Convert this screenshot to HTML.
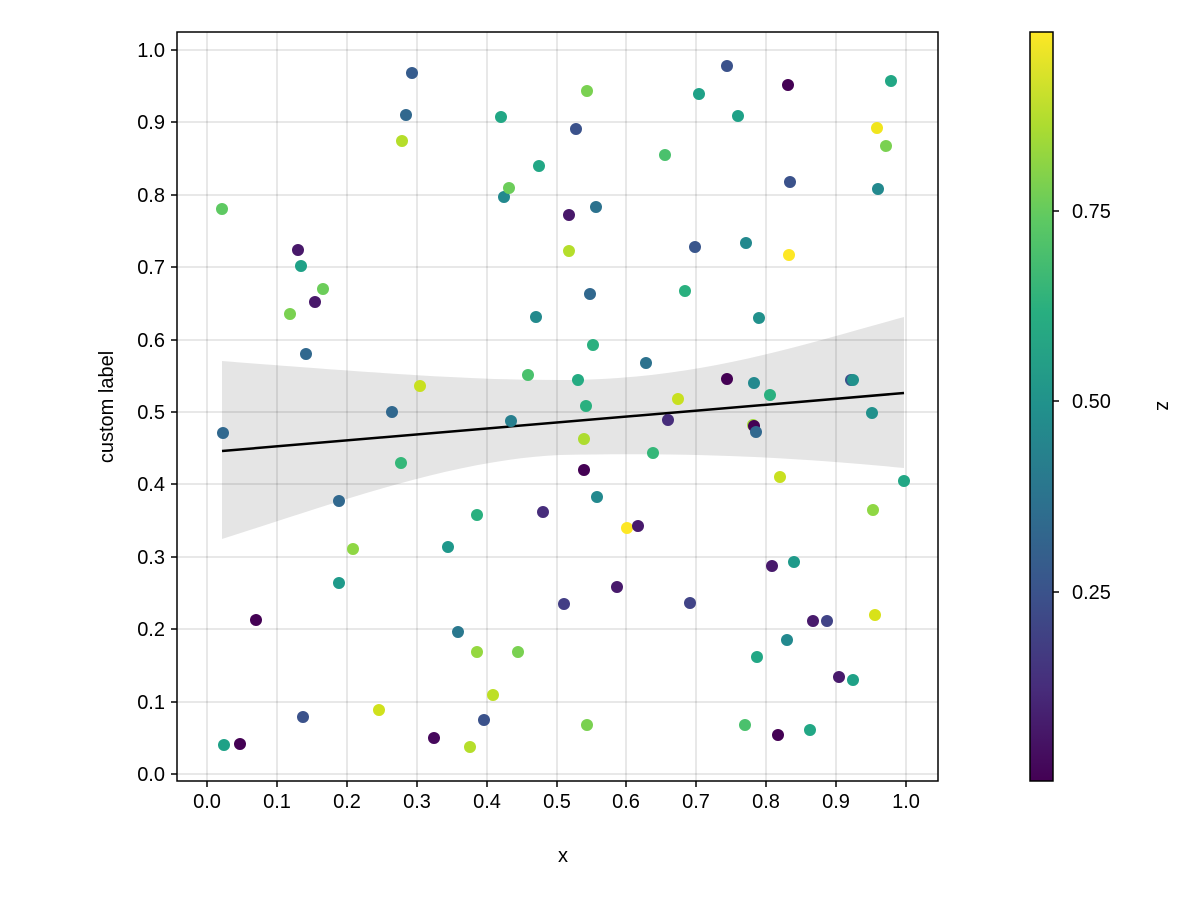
<!DOCTYPE html>
<html><head><meta charset="utf-8"><style>body{margin:0;background:#fff}svg{display:block}text{font-family:"Liberation Sans",sans-serif;fill:#000}</style></head><body>
<svg width="1200" height="900" xmlns="http://www.w3.org/2000/svg">
<defs><linearGradient id="vir" x1="0" y1="1" x2="0" y2="0">
<stop offset="0" stop-color="#440154"/><stop offset="0.125" stop-color="#472d7b"/><stop offset="0.25" stop-color="#3b528b"/><stop offset="0.375" stop-color="#2c728e"/><stop offset="0.5" stop-color="#21918c"/><stop offset="0.625" stop-color="#28ae80"/><stop offset="0.75" stop-color="#5ec962"/><stop offset="0.875" stop-color="#addc30"/><stop offset="1" stop-color="#fde725"/></linearGradient></defs>
<g stroke="#000" stroke-opacity="0.12" stroke-width="1.5">
<line x1="207" y1="32" x2="207" y2="781"/><line x1="277" y1="32" x2="277" y2="781"/><line x1="347" y1="32" x2="347" y2="781"/><line x1="417" y1="32" x2="417" y2="781"/><line x1="487" y1="32" x2="487" y2="781"/><line x1="557" y1="32" x2="557" y2="781"/><line x1="626" y1="32" x2="626" y2="781"/><line x1="696" y1="32" x2="696" y2="781"/><line x1="766" y1="32" x2="766" y2="781"/><line x1="836" y1="32" x2="836" y2="781"/><line x1="906" y1="32" x2="906" y2="781"/>
<line x1="177" y1="774" x2="938" y2="774"/><line x1="177" y1="702" x2="938" y2="702"/><line x1="177" y1="629" x2="938" y2="629"/><line x1="177" y1="557" x2="938" y2="557"/><line x1="177" y1="484" x2="938" y2="484"/><line x1="177" y1="412" x2="938" y2="412"/><line x1="177" y1="340" x2="938" y2="340"/><line x1="177" y1="267" x2="938" y2="267"/><line x1="177" y1="195" x2="938" y2="195"/><line x1="177" y1="122" x2="938" y2="122"/><line x1="177" y1="50" x2="938" y2="50"/>
</g>
<path d="M222,361 C400,375 480,380 560,380 C700,380 800,345 904,317 L904,468 C800,458 700,452 560,455 C450,460 330,505 222,539 Z" fill="#000" fill-opacity="0.1"/>
<line x1="222" y1="451" x2="904" y2="393" stroke="#000" stroke-width="2.5"/>
<g>
<circle cx="222" cy="209" r="6" fill="#5ec962"/><circle cx="223" cy="433" r="6" fill="#31688e"/><circle cx="224" cy="745" r="6" fill="#1fa187"/><circle cx="240" cy="744" r="6" fill="#440154"/><circle cx="256" cy="620" r="6" fill="#440154"/><circle cx="298" cy="250" r="6" fill="#48186a"/><circle cx="301" cy="266" r="6" fill="#1fa187"/><circle cx="290" cy="314" r="6" fill="#7ad151"/><circle cx="315" cy="302" r="6" fill="#48186a"/><circle cx="323" cy="289" r="6" fill="#6ccd5a"/><circle cx="306" cy="354" r="6" fill="#31688e"/><circle cx="303" cy="717" r="6" fill="#3b528b"/><circle cx="339" cy="501" r="6" fill="#31688e"/><circle cx="339" cy="583" r="6" fill="#1f9a8a"/><circle cx="353" cy="549" r="6" fill="#8fd744"/><circle cx="379" cy="710" r="6" fill="#d0e11c"/><circle cx="392" cy="412" r="6" fill="#31688e"/><circle cx="401" cy="463" r="6" fill="#35b779"/><circle cx="406" cy="115" r="6" fill="#31688e"/><circle cx="412" cy="73" r="6" fill="#365c8d"/><circle cx="402" cy="141" r="6" fill="#b5de2b"/><circle cx="420" cy="386" r="6" fill="#c8e020"/><circle cx="434" cy="738" r="6" fill="#46085c"/><circle cx="448" cy="547" r="6" fill="#1f988b"/><circle cx="458" cy="632" r="6" fill="#2a788e"/><circle cx="470" cy="747" r="6" fill="#b5de2b"/><circle cx="477" cy="515" r="6" fill="#2ab07f"/><circle cx="477" cy="652" r="6" fill="#95d840"/><circle cx="518" cy="652" r="6" fill="#7ad151"/><circle cx="493" cy="695" r="6" fill="#bddf26"/><circle cx="484" cy="720" r="6" fill="#3b528b"/><circle cx="501" cy="117" r="6" fill="#22a785"/><circle cx="504" cy="197" r="6" fill="#23898e"/><circle cx="509" cy="188" r="6" fill="#6ccd5a"/><circle cx="511" cy="421" r="6" fill="#277f8e"/><circle cx="536" cy="317" r="6" fill="#238a8d"/><circle cx="539" cy="166" r="6" fill="#22a785"/><circle cx="528" cy="375" r="6" fill="#4ac16d"/><circle cx="543" cy="512" r="6" fill="#472d7b"/><circle cx="569" cy="215" r="6" fill="#48186a"/><circle cx="569" cy="251" r="6" fill="#b5de2b"/><circle cx="576" cy="129" r="6" fill="#3b528b"/><circle cx="578" cy="380" r="6" fill="#25ab82"/><circle cx="584" cy="439" r="6" fill="#addc30"/><circle cx="584" cy="470" r="6" fill="#440154"/><circle cx="586" cy="406" r="6" fill="#2ab07f"/><circle cx="587" cy="91" r="6" fill="#7ad151"/><circle cx="587" cy="725" r="6" fill="#7ad151"/><circle cx="590" cy="294" r="6" fill="#31688e"/><circle cx="593" cy="345" r="6" fill="#2ab07f"/><circle cx="596" cy="207" r="6" fill="#2c728e"/><circle cx="597" cy="497" r="6" fill="#23898e"/><circle cx="564" cy="604" r="6" fill="#433e85"/><circle cx="617" cy="587" r="6" fill="#481a6c"/><circle cx="627" cy="528" r="6" fill="#fde725"/><circle cx="638" cy="526" r="6" fill="#481a6c"/><circle cx="646" cy="363" r="6" fill="#2c728e"/><circle cx="653" cy="453" r="6" fill="#35b779"/><circle cx="665" cy="155" r="6" fill="#4ac16d"/><circle cx="668" cy="420" r="6" fill="#472d7b"/><circle cx="678" cy="399" r="6" fill="#c8e020"/><circle cx="685" cy="291" r="6" fill="#2ab07f"/><circle cx="690" cy="603" r="6" fill="#414487"/><circle cx="695" cy="247" r="6" fill="#39568c"/><circle cx="699" cy="94" r="6" fill="#1fa187"/><circle cx="727" cy="66" r="6" fill="#3b528b"/><circle cx="727" cy="379" r="6" fill="#440154"/><circle cx="738" cy="116" r="6" fill="#1fa187"/><circle cx="745" cy="725" r="6" fill="#4ac16d"/><circle cx="746" cy="243" r="6" fill="#23898e"/><circle cx="753" cy="425" r="6" fill="#a0da39"/><circle cx="754" cy="426" r="6" fill="#440154"/><circle cx="756" cy="432" r="6" fill="#31688e"/><circle cx="754" cy="383" r="6" fill="#23898e"/><circle cx="757" cy="657" r="6" fill="#22a785"/><circle cx="759" cy="318" r="6" fill="#21918c"/><circle cx="770" cy="395" r="6" fill="#2ab07f"/><circle cx="772" cy="566" r="6" fill="#481a6c"/><circle cx="778" cy="735" r="6" fill="#440154"/><circle cx="780" cy="477" r="6" fill="#c8e020"/><circle cx="787" cy="640" r="6" fill="#23898e"/><circle cx="788" cy="85" r="6" fill="#440154"/><circle cx="789" cy="255" r="6" fill="#fde725"/><circle cx="790" cy="182" r="6" fill="#3b528b"/><circle cx="794" cy="562" r="6" fill="#1f9a8a"/><circle cx="810" cy="730" r="6" fill="#22a785"/><circle cx="813" cy="621" r="6" fill="#481a6c"/><circle cx="827" cy="621" r="6" fill="#414487"/><circle cx="839" cy="677" r="6" fill="#481a6c"/><circle cx="851" cy="380" r="6" fill="#3b528b"/><circle cx="853" cy="380" r="6" fill="#21918c"/><circle cx="853" cy="680" r="6" fill="#1fa187"/><circle cx="872" cy="413" r="6" fill="#21918c"/><circle cx="873" cy="510" r="6" fill="#8fd744"/><circle cx="875" cy="615" r="6" fill="#d8e219"/><circle cx="877" cy="128" r="6" fill="#f1e51d"/><circle cx="878" cy="189" r="6" fill="#23898e"/><circle cx="886" cy="146" r="6" fill="#7ad151"/><circle cx="891" cy="81" r="6" fill="#22a785"/><circle cx="904" cy="481" r="6" fill="#22a785"/>
</g>
<rect x="177" y="32" width="761" height="749" fill="none" stroke="#000" stroke-width="1.5"/>
<g stroke="#000" stroke-width="1.5">
<line x1="207" y1="781" x2="207" y2="787"/><line x1="277" y1="781" x2="277" y2="787"/><line x1="347" y1="781" x2="347" y2="787"/><line x1="417" y1="781" x2="417" y2="787"/><line x1="487" y1="781" x2="487" y2="787"/><line x1="557" y1="781" x2="557" y2="787"/><line x1="626" y1="781" x2="626" y2="787"/><line x1="696" y1="781" x2="696" y2="787"/><line x1="766" y1="781" x2="766" y2="787"/><line x1="836" y1="781" x2="836" y2="787"/><line x1="906" y1="781" x2="906" y2="787"/>
<line x1="171" y1="774" x2="177" y2="774"/><line x1="171" y1="702" x2="177" y2="702"/><line x1="171" y1="629" x2="177" y2="629"/><line x1="171" y1="557" x2="177" y2="557"/><line x1="171" y1="484" x2="177" y2="484"/><line x1="171" y1="412" x2="177" y2="412"/><line x1="171" y1="340" x2="177" y2="340"/><line x1="171" y1="267" x2="177" y2="267"/><line x1="171" y1="195" x2="177" y2="195"/><line x1="171" y1="122" x2="177" y2="122"/><line x1="171" y1="50" x2="177" y2="50"/>
</g>
<g font-size="20" text-anchor="middle">
<text x="207" y="808">0.0</text><text x="277" y="808">0.1</text><text x="347" y="808">0.2</text><text x="417" y="808">0.3</text><text x="487" y="808">0.4</text><text x="557" y="808">0.5</text><text x="626" y="808">0.6</text><text x="696" y="808">0.7</text><text x="766" y="808">0.8</text><text x="836" y="808">0.9</text><text x="906" y="808">1.0</text>
<text x="563" y="862">x</text>
</g>
<g font-size="20" text-anchor="end">
<text x="165" y="781">0.0</text><text x="165" y="709">0.1</text><text x="165" y="636">0.2</text><text x="165" y="564">0.3</text><text x="165" y="491">0.4</text><text x="165" y="419">0.5</text><text x="165" y="347">0.6</text><text x="165" y="274">0.7</text><text x="165" y="202">0.8</text><text x="165" y="129">0.9</text><text x="165" y="57">1.0</text>
</g>
<text x="113" y="407" font-size="20" text-anchor="middle" transform="rotate(-90 113 407)">custom label</text>
<rect x="1030" y="32" width="23" height="749" fill="url(#vir)" stroke="#000" stroke-width="1.5"/>
<g stroke="#000" stroke-width="1.5"><line x1="1053" y1="211" x2="1059" y2="211"/><line x1="1053" y1="401" x2="1059" y2="401"/><line x1="1053" y1="592" x2="1059" y2="592"/></g>
<g font-size="20"><text x="1072" y="218">0.75</text><text x="1072" y="408">0.50</text><text x="1072" y="599">0.25</text></g>
<text x="1157" y="406" font-size="20" text-anchor="middle" transform="rotate(90 1157 406)">z</text>
</svg>
</body></html>
